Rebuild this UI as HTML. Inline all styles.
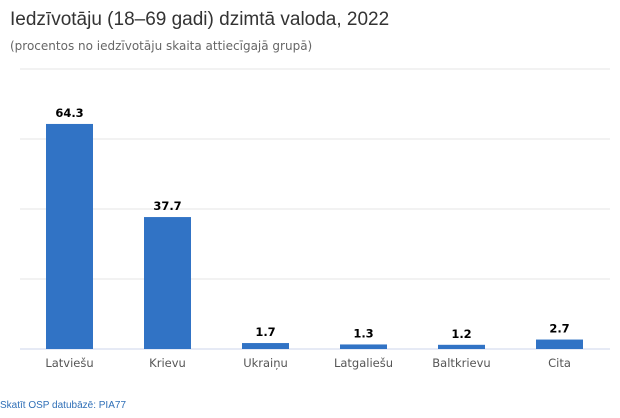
<!DOCTYPE html>
<html><head><meta charset="utf-8"><style>
body{margin:0;width:620px;height:413px;background:#fff;font-family:"Liberation Sans","DejaVu Sans",sans-serif;overflow:hidden}
</style></head><body>
<svg width="620" height="413" xmlns="http://www.w3.org/2000/svg">
<text x="10" y="25" font-size="19" fill="#333">Iedzīvotāju (18–69 gadi) dzimtā valoda, 2022</text>
<text x="10" y="50" font-size="12" fill="#666" font-family="DejaVu Sans, sans-serif">(procentos no iedzīvotāju skaita attiecīgajā grupā)</text>
<g id="grid"></g><g id="bars"></g><g id="labels"></g>
<text x="0" y="408" font-size="10" fill="#2f6fb7">Skatīt OSP datubāzē: PIA77</text>
</svg>
<script>
const categories=["Latviešu","Krievu","Ukraiņu","Latgaliešu","Baltkrievu","Cita"];
const values=[64.3,37.7,1.7,1.3,1.2,2.7];
const valueLabels=["64.3","37.7","1.7","1.3","1.2","2.7"];
const yTicks=[0,20,40,60,80];
const NS="http://www.w3.org/2000/svg";
const x0=20.5,x1=608.5,yBase=349,yTop=69,yMax=80;
const y=v=>yBase-(v/yMax)*(yBase-yTop);
const band=(x1-x0)/categories.length;
const cx=i=>x0+band*(i+0.5);
function mk(t,a,p){const e=document.createElementNS(NS,t);for(const k in a)e.setAttribute(k,a[k]);p.appendChild(e);return e;}
const g=document.getElementById('grid'),b=document.getElementById('bars'),l=document.getElementById('labels');
yTicks.forEach(t=>{const ln=mk('line',{x1:20,x2:610,y1:y(t),y2:y(t),stroke:t===0?'#ccd6eb':'#e6e6e6','stroke-width':1},g);

});
categories.forEach((c,i)=>{
const r=mk('rect',{x:cx(i)-23.5,width:47,y:y(values[i]),height:yBase-y(values[i]),fill:'#3173c5'},b);


const v=mk('text',{x:cx(i),y:y(values[i])-7,'text-anchor':'middle','font-size':11.5,'font-weight':'bold',fill:'#000','font-family':'DejaVu Sans, sans-serif'},l);v.textContent=valueLabels[i];


const t=mk('text',{x:cx(i),y:367,'text-anchor':'middle','font-size':11.5,fill:'#555','font-family':'DejaVu Sans, sans-serif'},l);t.textContent=c;


});
</script>
</body></html>
